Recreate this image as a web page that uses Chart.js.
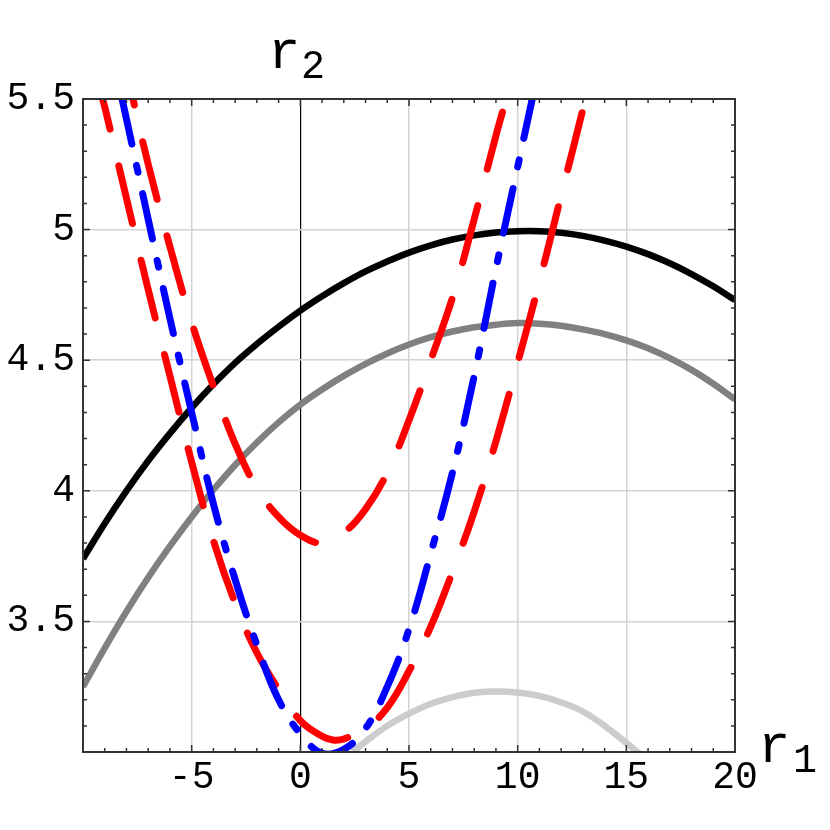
<!DOCTYPE html>
<html>
<head>
<meta charset="utf-8">
<script src="https://cdn.jsdelivr.net/npm/chart.js@4.4.0/dist/chart.umd.min.js"></script>
<style>
html, body { margin: 0; padding: 0; background: #fff; }
canvas { display: block; }
</style>
</head>
<body>
<canvas id="grafico" width="830" height="830"></canvas>
<script>
// values
var blackX = [-10, -9, -8, -7, -6, -5, -4, -3, -2, -1, 0, 1, 2, 3, 4, 5, 6, 7, 8, 9, 10, 11, 12, 13, 14, 15, 16, 17, 18, 19, 20];
var blackY = [3.74, 3.875, 4.00, 4.115, 4.22, 4.318, 4.408, 4.49, 4.562, 4.628, 4.69, 4.745, 4.795, 4.84, 4.878, 4.912, 4.94, 4.962, 4.978, 4.989, 4.994, 4.994, 4.988, 4.976, 4.958, 4.935, 4.906, 4.871, 4.83, 4.783, 4.73];

var grayX = [-10, -9, -8, -7, -6, -5, -4, -3, -2, -1, 0, 1, 2, 3, 4, 5, 6, 7, 8, 9, 10, 11, 12, 13, 14, 15, 16, 17, 18, 19, 20];
var grayY = [3.25, 3.398, 3.538, 3.668, 3.788, 3.90, 4.004, 4.099, 4.185, 4.262, 4.33, 4.388, 4.44, 4.486, 4.526, 4.56, 4.588, 4.61, 4.626, 4.636, 4.642, 4.64, 4.632, 4.618, 4.60, 4.576, 4.546, 4.508, 4.463, 4.41, 4.35];

var lightX = [2.4, 3, 4, 5, 6, 7, 8, 9, 10, 11, 12, 13, 14, 15, 15.6];
var lightY = [3.0, 3.04, 3.10, 3.147, 3.185, 3.21, 3.227, 3.232, 3.228, 3.215, 3.19, 3.155, 3.10, 3.035, 2.995];

var blueX = [-8.2, -7, -6, -5, -4, -3, -2, -1, 0, 1, 2, 3, 4, 5, 6, 7, 8, 9, 10, 10.67];
var blueY = [5.5, 5.04, 4.66, 4.30, 3.95, 3.66, 3.41, 3.20, 3.07, 2.995, 3.01, 3.09, 3.25, 3.47, 3.76, 4.07, 4.44, 4.85, 5.24, 5.5];

var red1X = [-9.1, -9, -8, -7, -6, -5, -4, -3, -2, -1, 0, 1, 1.5, 2, 3, 4, 5, 6, 7, 8, 9, 10, 11, 12, 13, 13.1];
var red1Y = [5.5, 5.47, 5.12, 4.77, 4.44, 4.11, 3.81, 3.57, 3.38, 3.24, 3.12, 3.06, 3.046, 3.05, 3.09, 3.17, 3.31, 3.48, 3.69, 3.92, 4.19, 4.49, 4.80, 5.13, 5.46, 5.5];

var red2X = [-7.7, -7, -6, -5, -4, -3, -2, -1, 0, 1, 2, 3, 4, 5, 6, 7, 8, 9, 9.47];
var red2Y = [5.5, 5.25, 4.935, 4.645, 4.40, 4.18, 4.01, 3.90, 3.83, 3.80, 3.84, 3.93, 4.07, 4.27, 4.50, 4.74, 5.04, 5.36, 5.5];

var xTicks = ['', '-5', '0', '5', '10', '15', '20'];
var yTicks = ['', '3.5', '4', '4.5', '5', '5.5'];

function pts(xs, ys) {
    return xs.map(function (x, i) { return { x: x, y: ys[i] }; });
}

function serie(xs, ys, color, width, dash, offset) {
    return {
        data: pts(xs, ys),
        showLine: true,
        pointRadius: 0,
        borderColor: color,
        borderWidth: width,
        borderDash: dash || [],
        borderDashOffset: offset || 0,
        borderCapStyle: dash ? 'round' : 'butt',
        borderJoinStyle: 'round',
        tension: 0.4
    };
}

var framePlugin = {
    id: 'frame',
    afterDraw: function (chart) {
        var c = chart.ctx, a = chart.chartArea;
        var sx = chart.scales.x, sy = chart.scales.y;
        c.save();
        c.strokeStyle = '#333';
        c.lineWidth = 1.5;
        c.beginPath();
        for (var i = -10; i <= 20; i++) {
            var px = sx.getPixelForValue(i), l = i % 5 === 0 ? 7 : 4;
            c.moveTo(px, a.bottom); c.lineTo(px, a.bottom - l);
            c.moveTo(px, a.top); c.lineTo(px, a.top + l);
        }
        for (var j = 30; j <= 55; j++) {
            var py = sy.getPixelForValue(j / 10), m = j % 5 === 0 ? 7 : 4;
            c.moveTo(a.left, py); c.lineTo(a.left + m, py);
            c.moveTo(a.right, py); c.lineTo(a.right - m, py);
        }
        c.stroke();
        c.lineWidth = 2;
        c.strokeRect(a.left, a.top, a.right - a.left, a.bottom - a.top);

        // axis names
        c.fillStyle = '#000';
        c.textBaseline = 'alphabetic';
        c.textAlign = 'left';
        c.font = '54px "Liberation Mono"';
        c.fillText('r', 268, 68);
        c.fillText('r', 758, 762);
        c.font = '40px "Liberation Mono"';
        c.fillText('2', 301, 78);
        c.fillText('1', 793, 772);
        c.restore();
    }
};

var ctx = document.getElementById('grafico');
var myChart = new Chart(ctx, {
    type: 'scatter',
    data: {
        datasets: [
            serie(blueX, blueY, '#0000ff', 7, [46, 22, 7, 22], 0),
            serie(red1X, red1Y, '#ff0000', 7, [59, 38], 28),
            serie(red2X, red2Y, '#ff0000', 7, [59, 38], 53),
            serie(blackX, blackY, '#000000', 6.5),
            serie(grayX, grayY, '#808080', 6.5),
            serie(lightX, lightY, '#cccccc', 6.5)
        ]
    },
    options: {
        responsive: false,
        animation: false,
        layout: { padding: { top: 99, right: 95, left: 0, bottom: 0 } },
        plugins: { legend: { display: false }, tooltip: { enabled: false } },
        scales: {
            x: {
                type: 'linear',
                min: -10,
                max: 20,
                afterFit: function (s) { s.height = 78; },
                border: { display: false },
                grid: {
                    drawTicks: false,
                    color: function (c) { return c.tick && c.tick.value === 0 ? '#000000' : '#d4d4d4'; },
                    lineWidth: function (c) { return c.tick && c.tick.value === 0 ? 1.2 : 1.5; }
                },
                ticks: {
                    stepSize: 5,
                    maxRotation: 0,
                    padding: 3,
                    color: '#000',
                    font: { family: 'Liberation Mono', size: 38 },
                    callback: function (v, i) { return xTicks[i]; }
                }
            },
            y: {
                min: 3,
                max: 5.5,
                afterFit: function (s) { s.width = 83; },
                border: { display: false },
                grid: { drawTicks: false, color: '#d4d4d4', lineWidth: 1.5 },
                ticks: {
                    stepSize: 0.5,
                    padding: 8,
                    color: '#000',
                    font: { family: 'Liberation Mono', size: 38 },
                    callback: function (v, i) { return yTicks[i]; }
                }
            }
        }
    },
    plugins: [framePlugin]
});
</script>
</body>
</html>
